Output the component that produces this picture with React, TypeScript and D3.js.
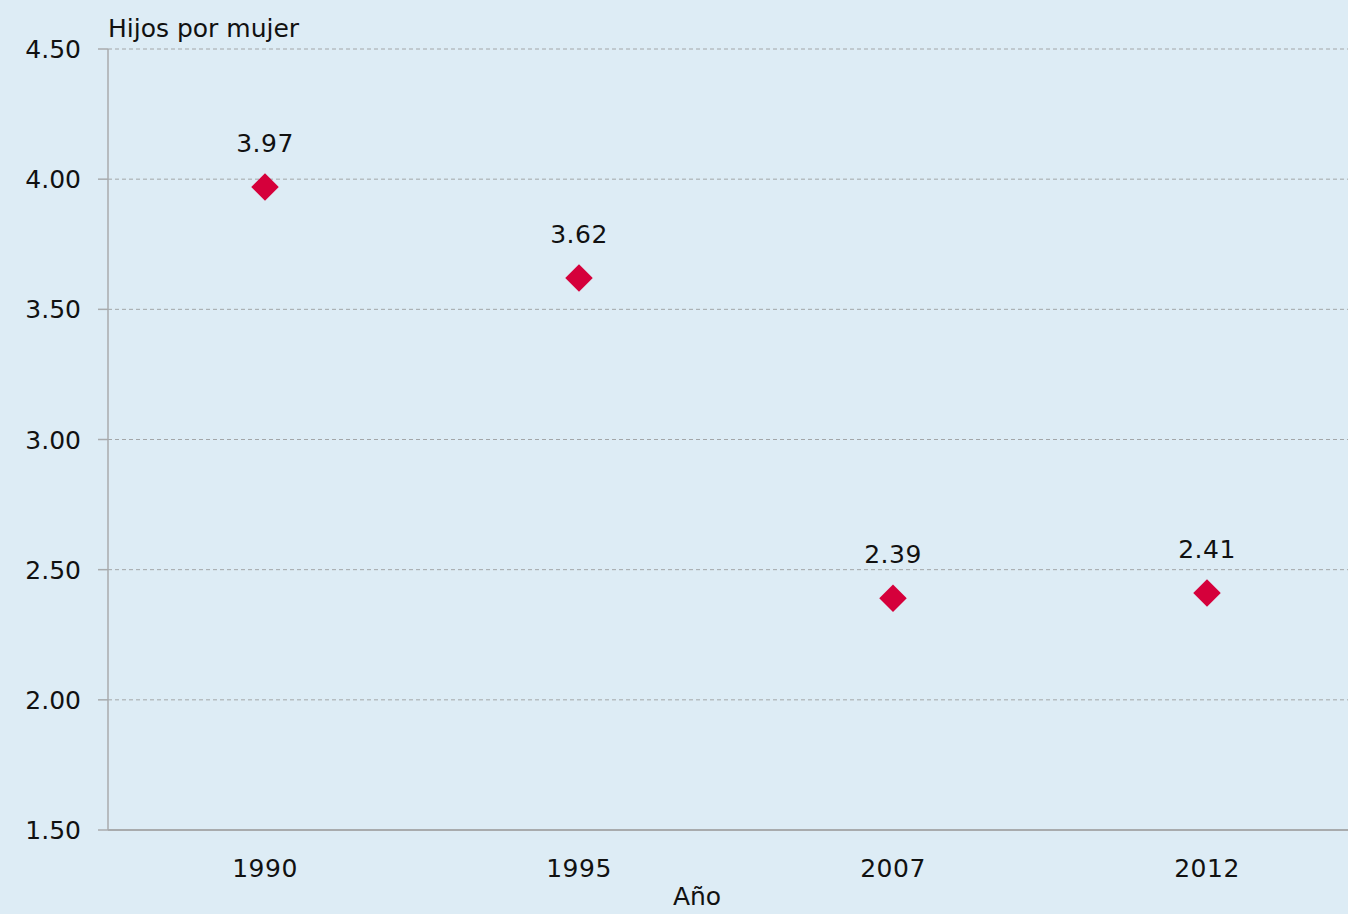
import React from 'react';
import * as d3 from 'd3';

const years = ['1990', '1995', '2007', '2012'];
const values = [3.97, 3.62, 2.39, 2.41];
const yTicks = [1.5, 2.0, 2.5, 3.0, 3.5, 4.0, 4.5];

const width = 1348;
const height = 914;
const margin = { top: 49, right: -16, bottom: 84, left: 108 };
const font = '"DejaVu Sans", sans-serif';
const fs = 25;

export default function App() {
  const x = d3.scaleBand<string>()
    .domain(years)
    .range([margin.left, width - margin.right]);

  const y = d3.scaleLinear()
    .domain([1.5, 4.5])
    .range([height - margin.bottom, margin.top]);

  const diamond = d3.symbol().type(d3.symbolDiamond2).size(31 * 31 / 2)();

  return (
    <div style={{ position: 'absolute', left: 0, top: 0 }}>
      <svg width={width} height={height} style={{ display: 'block' }}>
        <rect width={width} height={height} fill="#ddecf5" />

        {/* gridlines */}
        {yTicks.slice(1).map(t => (
          <line key={t} x1={margin.left} x2={width} y1={y(t)} y2={y(t)}
            stroke="#a3a6a8" strokeWidth={1} strokeDasharray="4,3" />
        ))}

        {/* axes */}
        <line x1={margin.left} x2={margin.left} y1={y(4.5)} y2={y(1.5)} stroke="#a8abad" strokeWidth={1.5} />
        <line x1={margin.left} x2={width} y1={y(1.5)} y2={y(1.5)} stroke="#a8abad" strokeWidth={2} />

        {yTicks.map(t => (
          <g key={t}>
            <line x1={margin.left - 10} x2={margin.left} y1={y(t)} y2={y(t)} stroke="#a8abad" strokeWidth={1.5} />
            <text x={81} y={y(t) + 9} textAnchor="end" fontFamily={font} fontSize={fs} fill="#111">
              {t.toFixed(2)}
            </text>
          </g>
        ))}

        {years.map(yr => (
          <text key={yr} x={(x(yr) || 0) + x.bandwidth() / 2} y={877} textAnchor="middle"
            fontFamily={font} fontSize={fs} fill="#111" letterSpacing={0.5}>
            {yr}
          </text>
        ))}

        <text x={697} y={905} textAnchor="middle" fontFamily={font} fontSize={fs} fill="#111">Año</text>
        <text x={108} y={37} fontFamily={font} fontSize={fs} fill="#111">Hijos por mujer</text>

        {/* points */}
        {years.map((yr, i) => {
          const cx = (x(yr) || 0) + x.bandwidth() / 2;
          const cy = y(values[i]);
          return (
            <g key={yr}>
              <path d={diamond || ''} transform={`translate(${cx},${cy})`} fill="#d5003b" />
              <text x={cx} y={cy - 35} textAnchor="middle" fontFamily={font} fontSize={fs} fill="#111" letterSpacing={0.5}>
                {values[i].toFixed(2)}
              </text>
            </g>
          );
        })}
      </svg>
    </div>
  );
}
